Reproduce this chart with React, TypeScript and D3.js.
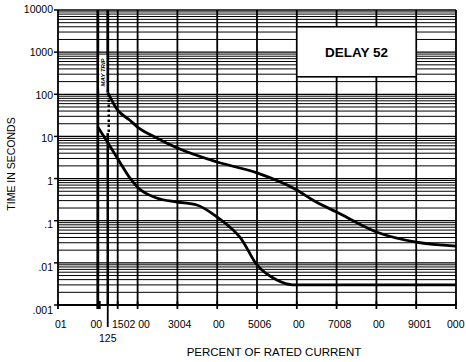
import React from 'react';
import * as d3 from 'd3';

const W = 466;
const H = 362;

// axis ticks / labels
const percentTicks = [0, 100, 105, 150, 200, 300, 400, 500, 600, 700, 800, 900, 1000];
const markerTick = 125;
const markerLabel = '125';
const gridPercents = [150, 200, 300, 400, 500, 600, 700, 800, 900, 1000];
const boundaryPercents = [100, 125];
const decades = [10000, 1000, 100, 10, 1, 0.1, 0.01, 0.001];
const decadeLabels = ['10000', '1000', '100', '10', '1', '.1', '.01', '.001'];
// x tick labels as they appear (overlapping strings), anchored (start) at these percent values
const xLabelTexts = ['01', '00', '1502 00', '3004', '00', '5006', '00', '7008', '00', '9001', '000'];
const xLabelAt = [-7.5, 81.7, 135.7, 276.4, 389.4, 477.4, 590.5, 678.4, 791.5, 879.4, 977.4];

// maximum (clearing) curve
const maxPct = [125, 150, 180, 200, 243, 300, 400, 500, 600, 640, 700, 800, 900, 1000];
const maxTime = [110, 42, 24.5, 16.7, 9.7, 5.3, 2.47, 1.36, 0.535, 0.31, 0.16, 0.054, 0.031, 0.025];
// minimum (trip) curve
const minPct = [100, 130, 155, 180, 202, 248, 300, 349, 400, 440, 457, 500, 550, 590, 1000];
const minTime = [16.7, 6.0, 2.47, 1.05, 0.6, 0.346, 0.278, 0.236, 0.122, 0.06, 0.041, 0.0089, 0.0039, 0.003, 0.003];

const mayTripBox = [130, 850]; // time range of the "MAY TRIP" label box
const mayTripCenter = 330;
const dottedRange = [110, 12];

const title = 'DELAY 52';
const xTitle = 'PERCENT OF RATED CURRENT';
const yTitle = 'TIME IN SECONDS';

export default function App() {
  const x = d3.scaleLinear().domain([0, 1000]).range([58, 456]);
  const y = d3.scaleLog().domain([0.001, 10000]).range([305, 10]);
  const yLab = d3.scaleLog().domain([0.001, 10000]).range([310.3, 9.2]);

  const minor: number[] = [];
  decades.slice(1).forEach((d) => {
    for (let k = 2; k <= 9; k++) minor.push(d * k);
  });

  const line = d3
    .line<[number, number]>()
    .x((d) => x(d[0]))
    .y((d) => y(d[1]))
    .curve(d3.curveMonotoneX);

  const maxPath = line(maxPct.map((p, i) => [p, maxTime[i]]) as [number, number][]) || '';
  const minPath = line(minPct.map((p, i) => [p, minTime[i]]) as [number, number][]) || '';

  const font = '"Liberation Sans", Arial, Helvetica, sans-serif';
  const x0 = x(0);
  const x1 = x(1000);

  return (
    <svg
      width={W}
      height={H}
      style={{ position: 'absolute', left: 0, top: 0, background: '#fff' }}
      fontFamily={font}
    >
      <rect x={0} y={0} width={W} height={H} fill="#fff" />
      {/* horizontal grid */}
      {minor.map((v, i) => (
        <line key={'m' + i} x1={x0} x2={x1} y1={y(v)} y2={y(v)} stroke="#000" strokeWidth={1} />
      ))}
      {decades.map((v, i) => (
        <line key={'d' + i} x1={x0} x2={x1} y1={y(v)} y2={y(v)} stroke="#000" strokeWidth={1.3} />
      ))}
      {/* vertical grid */}
      {gridPercents.map((p, i) => (
        <line key={'g' + i} x1={x(p)} x2={x(p)} y1={y(10000)} y2={y(0.001)} stroke="#000" strokeWidth={1.8} />
      ))}
      {/* 100% boundary */}
      <line x1={x(boundaryPercents[0])} x2={x(boundaryPercents[0])} y1={y(10000)} y2={y(0.001) + 4} stroke="#000" strokeWidth={2.8} />
      {/* 125% boundary: solid above, dotted between curves, solid below */}
      <line x1={x(boundaryPercents[1])} x2={x(boundaryPercents[1])} y1={y(10000)} y2={y(maxTime[0])} stroke="#000" strokeWidth={2.8} />
      <line
        x1={x(boundaryPercents[1]) + 1}
        x2={x(boundaryPercents[1]) + 1}
        y1={y(dottedRange[0]) + 2}
        y2={y(dottedRange[1])}
        stroke="#000"
        strokeWidth={2.5}
        strokeDasharray="2.5,2.5"
      />
      <line x1={x(boundaryPercents[1])} x2={x(boundaryPercents[1])} y1={y(dottedRange[1])} y2={y(0.001)} stroke="#000" strokeWidth={2.5} />
      {/* MAY TRIP box */}
      <rect
        x={x(boundaryPercents[0]) + 1.5}
        y={y(mayTripBox[1])}
        width={x(boundaryPercents[1]) - x(boundaryPercents[0]) - 3}
        height={y(mayTripBox[0]) - y(mayTripBox[1])}
        fill="#fff"
      />
      <text
        transform={`translate(${(x(boundaryPercents[0]) + x(boundaryPercents[1])) / 2 + 2},${y(mayTripCenter)}) rotate(-90)`}
        textAnchor="middle"
        fontSize={6}
        fontWeight="bold"
        fontStyle="italic"
        fill="#000"
      >
        MAY TRIP
      </text>
      {/* curves */}
      <path d={maxPath} fill="none" stroke="#000" strokeWidth={2.8} />
      <path d={minPath} fill="none" stroke="#000" strokeWidth={2.8} />
      {/* title box */}
      <rect x={x(600)} y={y(4000)} width={x(900) - x(600)} height={y(260) - y(4000)} fill="#fff" stroke="#000" strokeWidth={1.6} />
      <text x={(x(600) + x(900)) / 2} y={57} textAnchor="middle" fontSize={13.5} fontWeight="bold" fill="#000">
        {title}
      </text>
      {/* axes */}
      <line x1={x0} x2={x0} y1={y(10000)} y2={y(0.001)} stroke="#000" strokeWidth={1.8} />
      <line x1={x0} x2={x1} y1={y(0.001)} y2={y(0.001)} stroke="#000" strokeWidth={1.8} />
      {decades.map((v, i) => (
        <line key={'yt' + i} x1={x0 - 4} x2={x0} y1={y(v)} y2={y(v)} stroke="#000" strokeWidth={1.5} />
      ))}
      {percentTicks.map((p, i) => (
        <line key={'xt' + i} x1={x(p)} x2={x(p)} y1={y(0.001) - 4} y2={y(0.001) + 4} stroke="#000" strokeWidth={1.8} />
      ))}
      <line x1={x(markerTick)} x2={x(markerTick)} y1={y(0.001) - 4} y2={y(0.001) + 22} stroke="#000" strokeWidth={1.8} />
      {decadeLabels.map((t, i) => (
        <text key={'yl' + i} x={53} y={yLab(decades[i])} dy="0.36em" textAnchor="end" fontSize={10.5} fill="#000">
          {t}
        </text>
      ))}
      {xLabelTexts.map((t, i) => (
        <text key={'xl' + i} x={x(xLabelAt[i])} y={328} fontSize={10.5} fill="#000" style={{ whiteSpace: 'pre' }}>
          {t}
        </text>
      ))}
      <text x={x(markerTick)} y={342} textAnchor="middle" fontSize={10.5} fill="#000">
        {markerLabel}
      </text>
      <text x={274} y={356} textAnchor="middle" fontSize={11.5} fill="#000">
        {xTitle}
      </text>
      <text transform={`translate(15,164) rotate(-90)`} textAnchor="middle" fontSize={10.5} fill="#000">
        {yTitle}
      </text>
    </svg>
  );
}
